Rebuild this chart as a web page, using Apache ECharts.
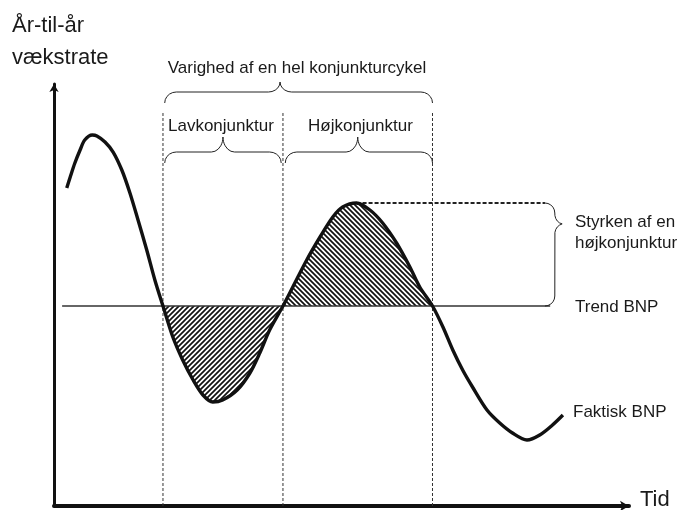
<!DOCTYPE html>
<html>
<head>
<meta charset="utf-8">
<script src="https://cdn.jsdelivr.net/npm/echarts@6.0.0/dist/echarts.min.js"></script>
<style>
  html, body { margin: 0; padding: 0; background: #fff; }
  #chart { width: 685px; height: 510px; }
</style>
</head>
<body>
<div id="chart"></div>
<script>
// faktisk BNP: tid (x) og vækst målt fra trend (y)
const tid = [2.2, 2.8, 3.6, 4.5, 5.3, 6.6, 7.4, 8.8, 10.2, 11.7, 13.1, 14.5, 16.0, 17.4, 18.8,
  20.5, 22.2, 24.0, 25.7, 27.4, 29.1, 31.6, 33.8, 35.5, 37.2, 39.5, 41.2, 43.6, 45.9, 48.1,
  49.8, 52.2, 54.5, 56.7, 59.1, 61.4, 63.1, 65.3, 67.1, 68.8, 70.5, 72.2, 74.7, 76.9, 79.1,
  81.6, 83.8, 86.0, 87.8]
const faktiskBNP = [5.9, 6.45, 7.15, 7.8, 8.3, 8.55, 8.5, 8.2, 7.7, 6.8, 5.65, 4.3, 2.8, 1.3, 0,
  -1.55, -2.7, -3.7, -4.45, -4.8, -4.7, -4.2, -3.35, -2.35, -1.2, 0, 0.95, 2.3, 3.45, 4.45,
  4.95, 5.15, 4.8, 4.15, 3.15, 1.95, 0.95, 0, -1.05, -2.2, -3.2, -4.05, -5.2, -5.85, -6.35,
  -6.7, -6.45, -5.95, -5.45]
const trendBNP = 0
const trendStart = 1.4
const trendSlut = 85.6
const cyklusGraenser = [18.8, 39.5, 65.3] // hvor faktisk BNP skærer trend
const toppunkt = [52.2, 5.15]

const chart = echarts.init(document.getElementById('chart'))

// skravering
function stribe(retning) {
  const s = 5
  const c = document.createElement('canvas')
  c.width = s
  c.height = s
  const g = c.getContext('2d')
  g.strokeStyle = '#111'
  g.lineWidth = 1.7
  g.beginPath()
  if (retning > 0) {
    g.moveTo(-1, s + 1); g.lineTo(s + 1, -1)
    g.moveTo(-1, 1); g.lineTo(1, -1)
    g.moveTo(s - 1, s + 1); g.lineTo(s + 1, s - 1)
  } else {
    g.moveTo(-1, -1); g.lineTo(s + 1, s + 1)
    g.moveTo(s - 1, -1); g.lineTo(s + 1, 1)
    g.moveTo(-1, s - 1); g.lineTo(1, s + 1)
  }
  g.stroke()
  return { image: c, repeat: 'repeat' }
}

function arc(cx, cy, rx, ry, a0, a1) {
  const pts = []
  for (let k = 0; k <= 10; k++) {
    const a = a0 + (a1 - a0) * k / 10
    pts.push([cx + rx * Math.cos(a), cy + ry * Math.sin(a)])
  }
  return pts
}

// vandret klamme med spids opad
function klammeOp(x0, x1, xt, yEnd, yMain, yTip, r) {
  const P = Math.PI
  return [].concat(
    arc(x0 + r, yEnd, r, yMain - yEnd, P, P / 2),
    arc(xt - r, yTip, r, yTip - yMain, -P / 2, 0),
    arc(xt + r, yTip, r, yTip - yMain, P, 3 * P / 2),
    arc(x1 - r, yEnd, r, yMain - yEnd, P / 2, 0)
  )
}

// lodret klamme med spids mod højre
function klammeHoejre(y0, y1, yt, xEnd, xMain, xTip, r) {
  const P = Math.PI
  return [].concat(
    arc(xEnd, y0 - r, xMain - xEnd, r, P / 2, 0),
    arc(xTip, yt + r, xTip - xMain, r, P, 3 * P / 2),
    arc(xTip, yt - r, xTip - xMain, r, P / 2, P),
    arc(xEnd, y1 + r, xMain - xEnd, r, 0, -P / 2)
  )
}

const punkter = tid.map((x, i) => [x, faktiskBNP[i]])
const lavData = punkter.filter(p => p[0] >= cyklusGraenser[0] && p[0] <= cyklusGraenser[1])
const hoejData = punkter.filter(p => p[0] >= cyklusGraenser[1] && p[0] <= cyklusGraenser[2])

const b = cyklusGraenser
const tynd = { color: '#222', width: 1 }
const klammer = [
  klammeOp(b[0] + 0.3, b[2], b[1] - 0.5, 10.15, 10.7, 11.2, 2),
  klammeOp(b[0] + 0.3, b[1] - 0.3, (b[0] + b[1]) / 2, 7.15, 7.7, 8.45, 2),
  klammeOp(b[1] + 0.4, b[2], (b[1] + b[2]) / 2, 7.15, 7.7, 8.45, 2),
  klammeHoejre(toppunkt[1], trendBNP, 4.1, 84.7, 86.4, 87.9, 0.5)
]

function lineSerie(data, style, extra) {
  return Object.assign({
    type: 'line',
    data: data,
    symbol: 'none',
    silent: true,
    clip: false,
    lineStyle: style
  }, extra || {})
}

const series = [
  lineSerie(lavData, { width: 0 }, { smooth: 0.3, areaStyle: { color: stribe(1), opacity: 1, origin: trendBNP } }),
  lineSerie(hoejData, { width: 0 }, { smooth: 0.3, areaStyle: { color: stribe(-1), opacity: 1, origin: trendBNP } }),
  lineSerie([[trendStart, trendBNP], [trendSlut, trendBNP]], { color: '#333', width: 1.5 })
]
b.forEach(x => {
  series.push(lineSerie([[x, 9.65], [x, -10]], { color: '#333', width: 1, type: [3, 2] }))
})
series.push(lineSerie([toppunkt, [84.7, toppunkt[1]]], { color: '#222', width: 2, type: [4, 2] }))
klammer.forEach(k => series.push(lineSerie(k, tynd)))
series.push(lineSerie(punkter, { color: '#111', width: 3.4 }, { smooth: 0.3 }))

const tekst = (text, x, y, size, align) => ({
  type: 'text',
  x: x,
  y: y,
  silent: true,
  style: {
    text: text,
    font: size + 'px "Liberation Sans", Arial, sans-serif',
    fill: '#1a1a1a',
    textAlign: align || 'left',
    textVerticalAlign: 'middle',
    verticalAlign: 'middle'
  }
})

const option = {
  animation: false,
  backgroundColor: '#fff',
  grid: { left: 54, right: 56, top: 84, bottom: 4 },
  xAxis: {
    type: 'value',
    min: 0,
    max: 99.2,
    axisLine: {
      show: true,
      onZero: false,
      symbol: ['none', 'arrow'],
      symbolSize: [8, 9],
      lineStyle: { color: '#111', width: 4 }
    },
    axisTick: { show: false },
    axisLabel: { show: false },
    splitLine: { show: false }
  },
  yAxis: {
    type: 'value',
    min: -10,
    max: 11.1,
    axisLine: {
      show: true,
      onZero: false,
      symbol: ['none', 'arrow'],
      symbolSize: [7, 8],
      lineStyle: { color: '#111', width: 3 }
    },
    axisTick: { show: false },
    axisLabel: { show: false },
    splitLine: { show: false }
  },
  graphic: [
    tekst('År-til-år', 12, 26, 22),
    tekst('vækstrate', 12, 58, 22),
    tekst('Tid', 640, 500, 22),
    tekst('Varighed af en hel konjunkturcykel', 297, 68, 17, 'center'),
    tekst('Lavkonjunktur', 168, 126, 17),
    tekst('Højkonjunktur', 308, 126, 17),
    tekst('Styrken af en', 575, 222, 17),
    tekst('højkonjunktur', 575, 243, 17),
    tekst('Trend BNP', 575, 307, 17),
    tekst('Faktisk BNP', 573, 412, 17)
  ],
  series: series
}

chart.setOption(option)
</script>
</body>
</html>
